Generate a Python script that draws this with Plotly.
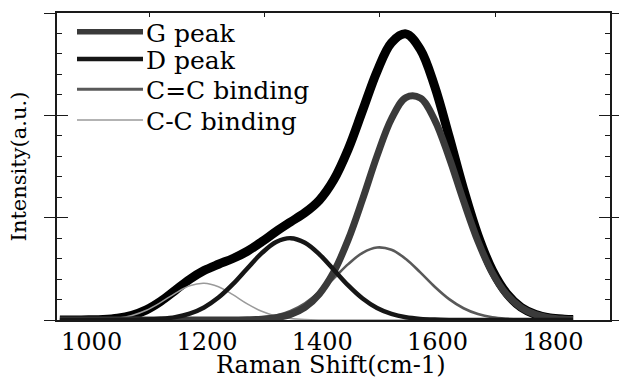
import plotly.graph_objects as go

# Raman shift (cm-1) sample positions
shift = [945, 970, 995, 1020, 1045, 1070, 1095, 1120, 1145, 1170, 1195, 1220,
         1245, 1270, 1295, 1320, 1345, 1370, 1395, 1420, 1445, 1470, 1495, 1520,
         1545, 1570, 1595, 1620, 1645, 1670, 1695, 1720, 1745, 1770, 1795, 1820, 1835]

# total fitted envelope (no legend entry)
envelope = [0.000, 0.000, 0.002, 0.006, 0.018, 0.046, 0.099, 0.183, 0.290, 0.397,
            0.483, 0.545, 0.601, 0.672, 0.764, 0.865, 0.958, 1.049, 1.171, 1.370,
            1.669, 2.048, 2.429, 2.710, 2.796, 2.645, 2.283, 1.793, 1.280, 0.829,
            0.486, 0.259, 0.124, 0.054, 0.021, 0.008, 0.004]

g_peak = [0.000, 0.000, 0.000, 0.000, 0.000, 0.000, 0.000, 0.000, 0.000, 0.000,
          0.000, 0.000, 0.001, 0.003, 0.008, 0.022, 0.055, 0.124, 0.255, 0.470,
          0.785, 1.181, 1.604, 1.966, 2.174, 2.170, 1.954, 1.588, 1.164, 0.770,
          0.460, 0.248, 0.121, 0.053, 0.021, 0.008, 0.004]

d_peak = [0.000, 0.000, 0.000, 0.000, 0.000, 0.002, 0.004, 0.012, 0.028, 0.062,
          0.123, 0.219, 0.350, 0.504, 0.653, 0.762, 0.800, 0.755, 0.642, 0.491,
          0.338, 0.210, 0.117, 0.059, 0.027, 0.011, 0.004, 0.001, 0.000, 0.000,
          0.000, 0.000, 0.000, 0.000, 0.000, 0.000, 0.000]

cc_double = [0.000, 0.000, 0.000, 0.000, 0.000, 0.000, 0.000, 0.000, 0.000, 0.000,
             0.000, 0.001, 0.003, 0.007, 0.019, 0.043, 0.089, 0.164, 0.273, 0.408,
             0.546, 0.657, 0.709, 0.686, 0.596, 0.465, 0.325, 0.204, 0.115, 0.058,
             0.026, 0.011, 0.004, 0.001, 0.000, 0.000, 0.000]

cc_single = [0.000, 0.000, 0.002, 0.006, 0.017, 0.044, 0.095, 0.172, 0.261, 0.335,
             0.360, 0.325, 0.247, 0.158, 0.085, 0.038, 0.015, 0.005, 0.001, 0.000,
             0.000, 0.000, 0.000, 0.000, 0.000, 0.000, 0.000, 0.000, 0.000, 0.000,
             0.000, 0.000, 0.000, 0.000, 0.000, 0.000, 0.000]

series_names = ["G peak", "D peak", "C=C binding", "C-C binding"]
x_ticks = [1000, 1200, 1400, 1600, 1800]
x_top_ticks = [1100, 1300, 1500, 1700]
x_range = [940, 1899]
y_range = [0, 3]
x_title = "Raman Shift(cm-1)"
y_title = "Intensity(a.u.)"

SERIF = "DejaVu Serif"
styles = {
    "G peak": dict(color="#3a3a3a", width=7, lw=5.5),
    "D peak": dict(color="#161616", width=4.5, lw=4.5),
    "C=C binding": dict(color="#595959", width=2.6, lw=3),
    "C-C binding": dict(color="#9a9a9a", width=1.5, lw=1.5),
}
values = {"G peak": g_peak, "D peak": d_peak,
          "C=C binding": cc_double, "C-C binding": cc_single}

fig = go.Figure()
# envelope on the base axes (drawn underneath)
fig.add_trace(go.Scatter(x=shift, y=envelope, mode="lines", name="Sum",
                         line=dict(color="#000000", width=9, shape="spline"),
                         showlegend=False, xaxis="x", yaxis="y"))
# component peaks on the overlaid axes (drawn on top)
for name in ["C-C binding", "C=C binding", "G peak", "D peak"]:
    st = styles[name]
    fig.add_trace(go.Scatter(x=shift, y=values[name], mode="lines", name=name,
                             line=dict(color=st["color"], width=st["width"], shape="spline"),
                             showlegend=False, xaxis="x2", yaxis="y2"))

# manual legend (paper coordinates of the plot area)
L, R, T, B = 57, 9, 13, 58
W, H = 619, 378
pw, ph = W - L - R, H - T - B
def px2x(px):
    return (px - L) / pw
def py2y(py):
    return (H - B - py) / ph
legend_rows = [31.7, 59.0, 89.3, 120.0]
shapes = []
annotations = []
for name, ry in zip(series_names, legend_rows):
    st = styles[name]
    shapes.append(dict(type="line", xref="paper", yref="paper",
                       x0=px2x(77), x1=px2x(143), y0=py2y(ry), y1=py2y(ry),
                       line=dict(color=st["color"], width=st["lw"])))
    annotations.append(dict(text=name, xref="paper", yref="paper",
                            x=px2x(144), y=py2y(ry + 1.5), xanchor="left", yanchor="middle",
                            showarrow=False, font=dict(family=SERIF, size=25, color="#000")))
# x-axis title placed just below the tick labels
annotations.append(dict(text=x_title, xref="paper", yref="paper",
                        x=px2x(331), y=py2y(349), xanchor="center", yanchor="top",
                        showarrow=False, font=dict(family=SERIF, size=24, color="#000")))

axis_col = "#1a1a1a"
fig.update_layout(
    width=W, height=H,
    margin=dict(l=L, r=R, t=T, b=B, autoexpand=False),
    paper_bgcolor="white", plot_bgcolor="white",
    showlegend=False,
    shapes=shapes, annotations=annotations,
    xaxis=dict(range=x_range, tickvals=x_ticks, ticktext=[str(v) for v in x_ticks],
               showline=True, linecolor=axis_col, linewidth=1.5, mirror=True,
               ticks="", showgrid=False, zeroline=False, automargin=False,
               tickfont=dict(family=SERIF, size=24, color="#000")),
    yaxis=dict(range=y_range, tick0=0, dtick=1, showline=True, linecolor=axis_col,
               linewidth=1.5, mirror="allticks", ticks="outside", ticklen=11,
               tickcolor=axis_col, tickwidth=1.3, showticklabels=False,
               showgrid=False, zeroline=False, automargin=False,
               title=dict(text=y_title, standoff=12,
                          font=dict(family=SERIF, size=21, color="#000"))),
    xaxis2=dict(range=x_range, overlaying="x", side="top", anchor="y2",
                tickvals=x_top_ticks, ticks="inside", ticklen=4, tickcolor=axis_col,
                tickwidth=1.2, showticklabels=False, showline=False,
                showgrid=False, zeroline=False, automargin=False),
    yaxis2=dict(range=y_range, overlaying="y", side="left", anchor="x2",
                tick0=0, dtick=1, ticks="inside", ticklen=11, tickcolor=axis_col,
                tickwidth=1.3, mirror="allticks", showticklabels=False,
                showline=False, showgrid=False, zeroline=False, automargin=False,
                minor=dict(ticks="inside", ticklen=5, dtick=0.2, tick0=0,
                           tickcolor=axis_col, tickwidth=1.2, showgrid=False)),
)
try:
    fig.layout.xaxis.ticklabelstandoff = -1
except Exception:
    pass

fig.write_html("out.html", config={"displayModeBar": False},
               post_script="document.body.style.margin='0';document.body.style.overflow='hidden';")
